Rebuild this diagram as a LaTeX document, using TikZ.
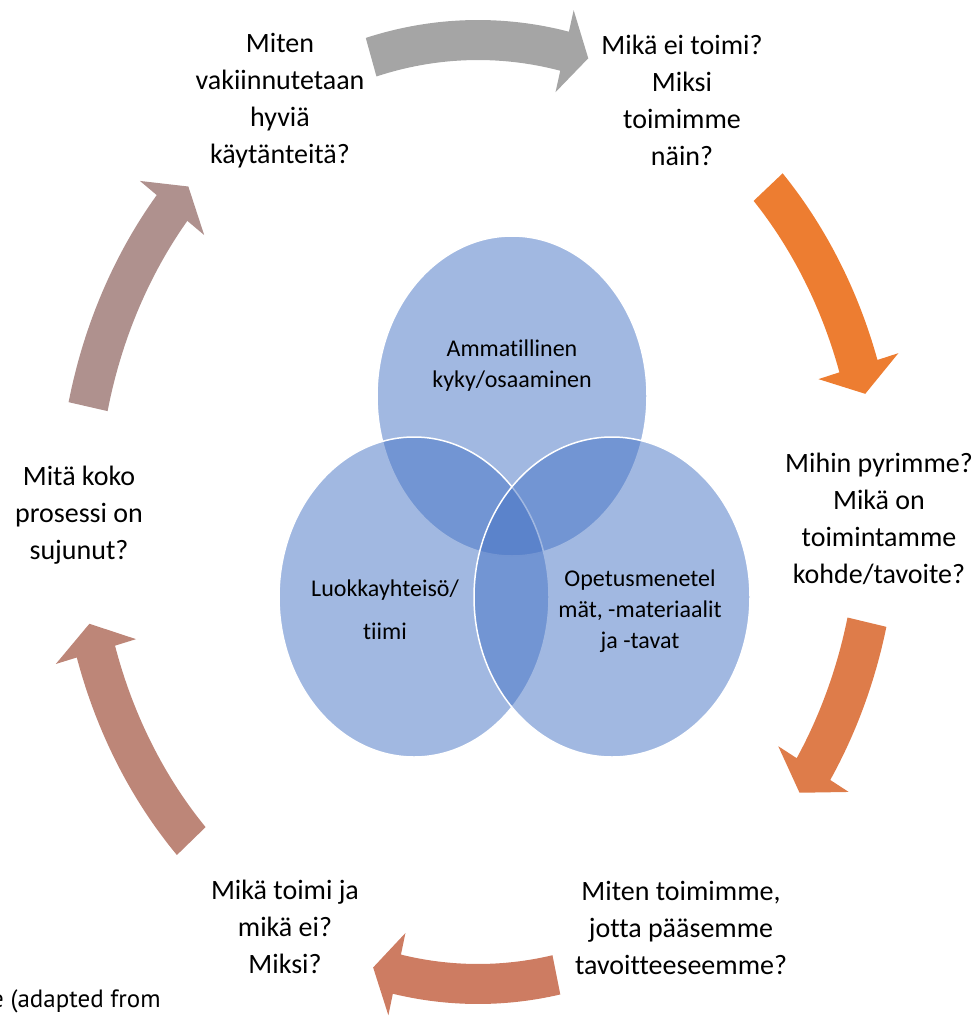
\documentclass[tikz,border=0pt]{standalone}
\usepackage{fontspec}
\setmainfont{Carlito}[Ligatures=NoCommon]
\newfontfamily\notefont{PT Sans}
\usetikzlibrary{calc}
\definecolor{venn}{HTML}{4472C4}
\definecolor{arrowA}{HTML}{A5A5A5}
\definecolor{arrowB}{HTML}{ED7D31}
\definecolor{arrowC}{HTML}{DE7C4A}
\definecolor{arrowD}{HTML}{CD7C62}
\definecolor{arrowE}{HTML}{BD8678}
\definecolor{arrowF}{HTML}{AF918E}
\tikzset{
  question/.style={align=center, inner sep=0pt, font=\fontsize{28}{37}\selectfont},
  circlelabel/.style={align=center, inner sep=0pt, font=\fontsize{24}{31}\selectfont},
  venncircle/.style={fill=venn, fill opacity=.5, draw=white, line width=1.5pt},
}
\begin{document}
\begin{tikzpicture}[x=1pt,y=-1pt]
  \useasboundingbox (0,0) rectangle (979,1019);
  \coordinate (ring) at (478,512);

  \foreach \s/\e/\col in {-105.5/-74/arrowA,-43.5/-14.5/arrowB,13.5/36.5/arrowC,
                          78.7/105.2/arrowD,135.8/166.3/arrowE,192.9/223.6/arrowF}
    \fill[\col] ($(ring)+(\s:420 and 492)$)
      arc[start angle=\s, end angle=\e-3.5, x radius=420, y radius=492]
      -- ($(ring)+(\e-3.5:442 and 514)$) -- ($(ring)+(\e:400 and 472)$)
      -- ($(ring)+(\e-3.5:358 and 430)$) -- ($(ring)+(\e-3.5:380 and 452)$)
      arc[start angle=\e-3.5, end angle=\s, x radius=380, y radius=452] -- cycle;

  \node[question] (keep)  at (280,101) {Miten\\vakiinnutetaan\\hyviä\\käytänteitä?};
  \node[question] (wrong) at (682,100) {Mikä ei toimi?\\Miksi\\toimimme\\näin?};
  \node[question] (aim)   at (879,519) {Mihin pyrimme?\\Mikä on\\toimintamme\\kohde/tavoite?};
  \node[question] (how)   at (681,928) {Miten toimimme,\\jotta pääsemme\\tavoitteeseemme?};
  \node[question] (worked) at (285,927) {Mikä toimi ja\\mikä ei?\\Miksi?};
  \node[question] (whole) at (79,515) {Mitä koko\\prosessi on\\sujunut?};

  \path[venncircle] (512,396) ellipse [x radius=135, y radius=160];
  \path[venncircle] (414,597) ellipse [x radius=135, y radius=160];
  \path[venncircle] (612,597) ellipse [x radius=138, y radius=160];
  \node[circlelabel] (skill) at (512,366) {Ammatillinen\\kyky/osaaminen};
  \node[circlelabel] (team)  at (385,610) {Luokkayhteisö/\\[12pt]tiimi};
  \node[circlelabel] (method) at (640,611) {Opetusmenetel\\mät, -materiaalit\\ja -tavat};

  \node[anchor=base west, inner sep=0pt, font=\notefont\fontsize{25}{30}\selectfont] (source) at (-9,1007) {e (adapted from};
\end{tikzpicture}
\end{document}
